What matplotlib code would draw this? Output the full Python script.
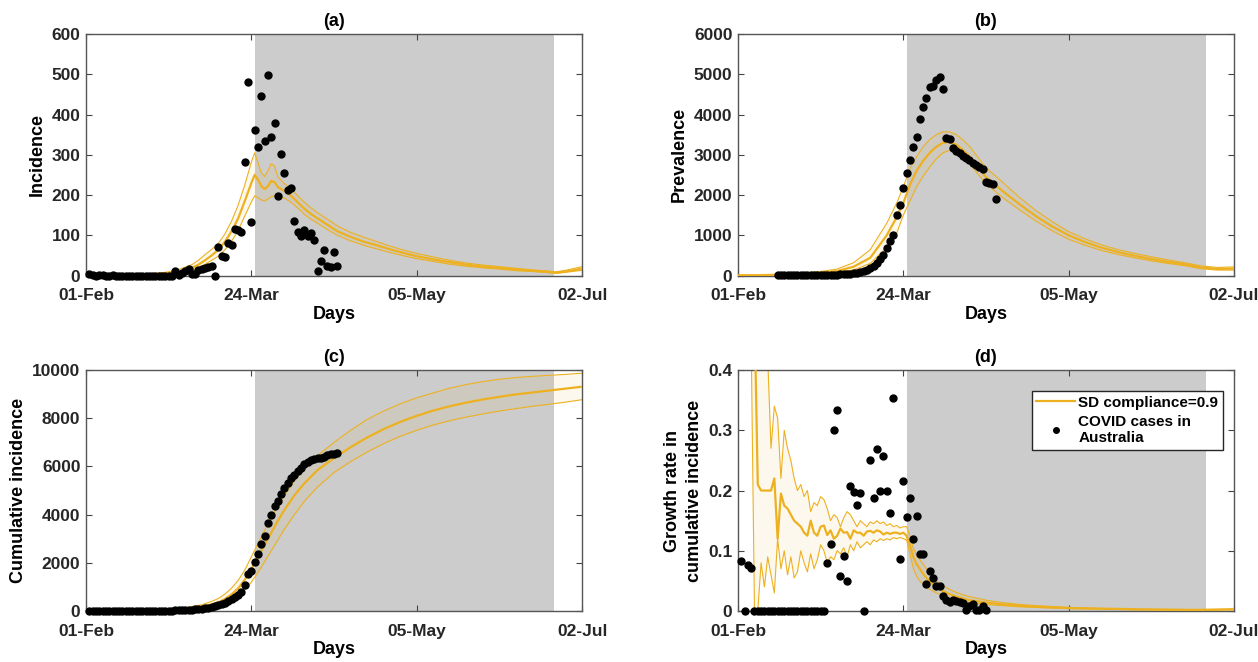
import matplotlib.pyplot as plt
import numpy as np

plt.rcParams['font.family'] = ['Liberation Sans', 'DejaVu Sans']
plt.rcParams['font.weight'] = 'bold'
plt.rcParams['font.size'] = 12.5

orange = '#EDB120'
shade = '#CCCCCC'

tick_days = [0, 50, 100, 150]
tick_labels = ['01-Feb', '24-Mar', '05-May', '02-Jul']
sd_start, sd_end = 51, 141.5

# (a) incidence
days_a = [0, 5, 10, 15, 20, 24, 26, 28, 30, 32, 34, 36, 38, 40, 42, 44, 46, 48, 50,
          51, 52, 53, 54, 55, 56, 57, 58, 60, 62, 64, 66, 68, 70, 73, 76, 80, 84, 88,
          92, 96, 100, 105, 110, 115, 120, 125, 130, 135, 140, 142, 145, 150]
inc_med = [0, 0.5, 1, 2, 3, 5, 7, 9, 14, 19, 27, 38, 50, 64, 84, 110, 142, 185, 230,
           250, 238, 222, 215, 222, 235, 232, 220, 210, 198, 182, 166, 153, 142, 126, 110, 96, 84, 75,
           65, 56, 48, 40, 33, 27, 22, 19, 15, 12, 9, 7, 10, 17]
inc_hi = [0, 1, 2, 3, 5, 8, 11, 15, 21, 27, 38, 52, 65, 80, 103, 135, 175, 225, 282,
          305, 280, 255, 246, 260, 278, 272, 245, 228, 216, 198, 182, 168, 156, 140, 123, 107, 95, 84,
          73, 63, 55, 46, 38, 31, 26, 22, 18, 14, 11, 9, 13, 22]
inc_lo = [0, 0.3, 0.5, 1, 2, 3, 4, 6, 9, 13, 19, 28, 38, 48, 64, 85, 112, 148, 183,
          198, 193, 188, 185, 190, 196, 198, 196, 192, 182, 168, 152, 140, 130, 114, 100, 86, 75, 66,
          57, 49, 42, 35, 28, 23, 19, 16, 12, 10, 7, 5, 8, 13]
obs_days_a = np.arange(1, 77)
inc_obs = [3, 2, 0, 2, 1, 0, 0, 1, 0, 0, 0, 0, 0, 0, 0, 0, 0, 0, 0, 0, 0, 0, 0, 0, 0, 0,
           12, 2, 6, 12, 16, 4, 4, 14, 16, 18, 20, 23, 0,
           71, 48, 46, 80, 75, 115, 112, 109, 281, 480,
           132, 362, 320, 446, 333, 498, 344, 378, 198, 302,
           254, 212, 218, 136, 109, 98, 113, 98, 106, 88,
           11, 35, 63, 23, 21, 59, 24]

# (b) prevalence
days_b = [0, 5, 10, 15, 20, 25, 30, 35, 40, 45, 48, 50, 52, 54, 56, 58, 60, 62, 64, 66, 68, 70,
          75, 80, 85, 90, 95, 100, 105, 110, 115, 120, 125, 130, 135, 140, 145, 150]
prev_med = [5, 8, 15, 28, 45, 68, 110, 220, 440, 1000, 1450, 1800, 2250, 2600, 2850, 3050, 3200,
            3300, 3320, 3250, 3120, 2960, 2450, 2100, 1780, 1480, 1220, 1000, 830, 690, 580, 490,
            410, 340, 280, 200, 165, 170]
prev_hi = [5, 10, 20, 38, 65, 100, 160, 320, 640, 1300, 1800, 2200, 2650, 2950, 3200, 3380, 3500,
           3570, 3570, 3500, 3370, 3210, 2680, 2320, 1950, 1620, 1340, 1090, 910, 760, 640, 550,
           465, 390, 320, 240, 200, 215]
prev_lo = [5, 6, 10, 18, 30, 42, 70, 140, 300, 700, 1050, 1500, 1850, 2200, 2470, 2700, 2900,
           3050, 3110, 3060, 2940, 2780, 2280, 1940, 1640, 1360, 1110, 900, 750, 620, 520, 440,
           365, 300, 245, 170, 135, 135]
obs_days_b = np.arange(12, 79)
prev_obs = [2, 2, 3, 3, 4, 5, 5, 6, 7, 8, 9, 10, 11, 12, 14, 16, 18, 21,
            25, 29, 34, 40, 50, 58, 70, 80, 100, 125,
            175, 230, 315, 400, 520, 690, 870, 1000, 1500, 1750,
            2180, 2535, 2860, 3200, 3445, 3900, 4190, 4400, 4680, 4705,
            4850, 4940, 4640, 3420, 3400, 3175, 3100, 3040, 2980, 2920,
            2860, 2800, 2740, 2690, 2650, 2335, 2300, 2280, 1890]

# (c) cumulative incidence
days_c = [0, 5, 10, 15, 20, 25, 30, 35, 38, 40, 42, 44, 46, 48, 50, 52, 54, 56, 58, 60,
          63, 66, 70, 75, 80, 85, 90, 95, 100, 105, 110, 115, 120, 125, 130, 135, 140, 145, 150]
cum_med = [0, 3, 7, 14, 25, 45, 90, 175, 270, 360, 500, 690, 940, 1300, 1750, 2250, 2750, 3250,
           3750, 4200, 4800, 5300, 5850, 6350, 6800, 7200, 7550, 7850, 8100, 8320, 8500, 8650,
           8780, 8890, 8990, 9070, 9150, 9230, 9310]
cum_hi = [0, 5, 12, 22, 40, 70, 135, 260, 400, 520, 700, 950, 1270, 1700, 2250, 2800, 3350, 3850,
          4350, 4800, 5400, 5900, 6450, 7000, 7500, 7950, 8300, 8600, 8850, 9050, 9250, 9400,
          9520, 9620, 9690, 9740, 9780, 9820, 9870]
cum_lo = [0, 2, 4, 8, 15, 28, 55, 110, 170, 230, 320, 450, 620, 870, 1200, 1600, 2050, 2500,
          2950, 3400, 4000, 4550, 5150, 5750, 6200, 6600, 6950, 7250, 7500, 7720, 7900, 8050,
          8180, 8300, 8400, 8500, 8580, 8670, 8770]
obs_days_c = np.arange(1, 77)
cum_obs = [3, 5, 6, 8, 8, 8, 9, 9, 9, 9, 10, 10, 10, 10, 12, 12, 12, 13, 13, 13, 14, 14, 15, 15, 15,
           17, 22, 28, 35, 42, 50, 58, 68, 80, 95, 115, 140, 170, 210, 250, 290, 340, 400, 480, 580,
           650, 795, 1070, 1517, 1656, 2046, 2366, 2784, 3132, 3633,
           3967, 4357, 4552, 4858, 5108, 5331, 5526, 5665, 5805, 5944,
           6083, 6194, 6278, 6320, 6330, 6361, 6403, 6459, 6500, 6528, 6556]

# (d) growth rate in cumulative incidence
days_d = list(range(4, 61)) + [62, 64, 66, 68, 70, 75, 80, 85, 90, 100, 110, 120, 130, 140, 150]
gr_hi = [0.5, 0.5, 0.5, 0.5, 0.5, 0.42, 0.27, 0.34, 0.32, 0.22,
         0.30, 0.27, 0.25, 0.22, 0.20, 0.21, 0.19, 0.20, 0.165, 0.18,
         0.175, 0.19, 0.185, 0.17, 0.15, 0.16, 0.155, 0.14, 0.155, 0.165,
         0.16, 0.15, 0.14, 0.15, 0.145, 0.14, 0.148, 0.145, 0.15, 0.145,
         0.148, 0.142, 0.145, 0.14, 0.142, 0.138, 0.14, 0.14, 0.125, 0.105,
         0.092, 0.085, 0.078, 0.07, 0.062, 0.055, 0.05,
         0.042, 0.036, 0.031, 0.027, 0.024, 0.018, 0.014, 0.011, 0.009, 0.006, 0.004, 0.003,
         0.003, 0.002, 0.003]
gr_med = [0.5, 0.5, 0.21, 0.2, 0.2, 0.2, 0.2, 0.22, 0.12, 0.195,
          0.175, 0.17, 0.16, 0.15, 0.145, 0.14, 0.13, 0.125, 0.15, 0.13,
          0.125, 0.14, 0.142, 0.126, 0.134, 0.12, 0.125, 0.137, 0.13, 0.131,
          0.12, 0.134, 0.13, 0.13, 0.125, 0.132, 0.133, 0.13, 0.134, 0.132,
          0.127, 0.13, 0.128, 0.13, 0.13, 0.128, 0.13, 0.125, 0.11, 0.09,
          0.078, 0.07, 0.062, 0.055, 0.049, 0.044, 0.04,
          0.033, 0.028, 0.024, 0.021, 0.018, 0.014, 0.011, 0.009, 0.007, 0.005, 0.004, 0.003,
          0.002, 0.002, 0.003]
gr_lo = [0.45, 0, 0, 0.08, 0.04, 0.09, 0.06, 0.03, 0.12, 0.07,
         0.1, 0.06, 0.09, 0.055, 0.065, 0.1, 0.08, 0.065, 0.095, 0.07,
         0.085, 0.11, 0.1, 0.08, 0.09, 0.085, 0.1, 0.095, 0.105, 0.09,
         0.11, 0.1, 0.115, 0.105, 0.11, 0.115, 0.11, 0.118, 0.115, 0.12,
         0.117, 0.12, 0.118, 0.122, 0.12, 0.122, 0.12, 0.118, 0.095, 0.072,
         0.058, 0.05, 0.045, 0.04, 0.036, 0.033, 0.03,
         0.026, 0.022, 0.019, 0.017, 0.014, 0.011, 0.009, 0.007, 0.006, 0.004, 0.003, 0.002,
         0.002, 0.001, 0.002]
obs_days_d = np.arange(1, 76)
gr_obs = [0.083, 0, 0.077, 0.072] + [0] * 22 + \
         [0.080, 0.111, 0.300, 0.334, 0.058, 0.091, 0.050, 0.207, 0.198, 0.176, 0.196, 0,
          np.nan,
          0.250, 0.188, 0.269, 0.199, 0.257, 0.199, 0.162, 0.354,
          np.nan,
          0.086, 0.216, 0.156, 0.188, 0.119, 0.158, 0.094, 0.094, 0.045, 0.066,
          0.054, 0.041, 0.041, 0.025, 0.019, 0.015, 0.019, 0.017, 0.015, 0.014,
          0.002, 0.008, 0.011, 0.002, 0.002, 0.009, 0.002]


def panel(ax, days, lo, med, hi, obs_days, obs, title, ylabel, ymax, yticks, yticklabels):
    ax.axvspan(sd_start, sd_end, color=shade, lw=0, zorder=0)
    ax.fill_between(days, lo, hi, color=orange, alpha=0.08, lw=0, zorder=1)
    ax.plot(days, hi, color=orange, lw=0.8, zorder=2)
    ax.plot(days, lo, color=orange, lw=0.8, zorder=2)
    line, = ax.plot(days, med, color=orange, lw=1.6, zorder=3)
    pts, = ax.plot(obs_days, obs, 'o', color='black', ms=5, zorder=4, clip_on=False)
    ax.set_xlim(0, 150)
    ax.set_ylim(0, ymax)
    ax.set_xticks(tick_days, tick_labels)
    ax.set_yticks(yticks, yticklabels)
    ax.tick_params(direction='in', top=True, right=True, length=4, width=0.8,
                   color='#444444', labelcolor='#262626', pad=4)
    ax.tick_params(axis='x', pad=9)
    for s in ax.spines.values():
        s.set_color('#555555')
        s.set_linewidth(1.0)
    ax.set_title(title, fontweight='bold', fontsize=13, pad=6)
    ax.set_xlabel('Days', fontweight='bold', fontsize=13, labelpad=2)
    ax.set_ylabel(ylabel, fontweight='bold', fontsize=13, labelpad=4, linespacing=1.35)
    return line, pts


fig = plt.figure(figsize=(12.58, 6.62), dpi=100)
ax_a = fig.add_axes([0.0684, 0.5838, 0.3943, 0.3648])
ax_b = fig.add_axes([0.5866, 0.5838, 0.3943, 0.3648])
ax_c = fig.add_axes([0.0684, 0.0770, 0.3943, 0.3640])
ax_d = fig.add_axes([0.5866, 0.0770, 0.3943, 0.3640])

panel(ax_a, days_a, inc_lo, inc_med, inc_hi, obs_days_a, inc_obs, '(a)', 'Incidence',
      600, range(0, 601, 100), [str(v) for v in range(0, 601, 100)])
panel(ax_b, days_b, prev_lo, prev_med, prev_hi, obs_days_b, prev_obs, '(b)', 'Prevalence',
      6000, range(0, 6001, 1000), [str(v) for v in range(0, 6001, 1000)])
panel(ax_c, days_c, cum_lo, cum_med, cum_hi, obs_days_c, cum_obs, '(c)', 'Cumulative incidence',
      10000, range(0, 10001, 2000), [str(v) for v in range(0, 10001, 2000)])
line, pts = panel(ax_d, days_d, gr_lo, gr_med, gr_hi, obs_days_d, gr_obs, '(d)',
                  'Growth rate in\ncumulative incidence',
                  0.4, [0, 0.1, 0.2, 0.3, 0.4], ['0', '0.1', '0.2', '0.3', '0.4'])

leg = ax_d.legend([line, pts], ['SD compliance=0.9', 'COVID cases in\nAustralia'],
                  loc='upper right', bbox_to_anchor=(1 - 11 / 496, 1 - 21 / 241),
                  borderaxespad=0, fancybox=False, edgecolor='#262626', framealpha=1,
                  handlelength=2.55, handletextpad=0.2, labelspacing=0.35, borderpad=0.3,
                  markerscale=0.8, prop={'weight': 'bold', 'size': 11})
leg.get_frame().set_linewidth(1.0)

fig.savefig('out.png', dpi=100)
